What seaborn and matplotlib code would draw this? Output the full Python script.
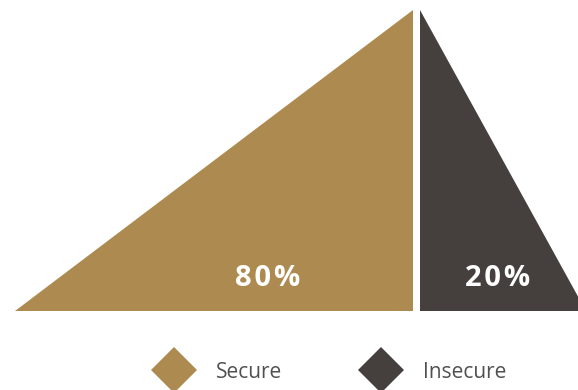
import matplotlib
matplotlib.use("Agg")
import matplotlib.pyplot as plt
from matplotlib.lines import Line2D
import seaborn as sns

# data
categories = ["Secure", "Insecure"]
values = [80, 20]
colors = ["#AD8B50", "#45403D"]

sns.set_theme(style="white")
plt.rcParams['font.family'] = ['Open Sans', 'DejaVu Sans']

fig = plt.figure(figsize=(5.78, 3.9), dpi=100)
ax = fig.add_axes([0, 0, 1, 1])
ax.set_xlim(0, 578)
ax.set_ylim(390, 0)
ax.axis("off")

# layout (pixel space)
top, bottom = 10, 311
left_foot, split, gap, right_foot = 15, 413, 7, 586

# secure: right-angled triangle leaning left
ax.fill([left_foot, split, split], [bottom, bottom, top],
        color=colors[0], lw=0)
# insecure: right-angled triangle leaning right (clipped at the edge)
ax.fill([split + gap, split + gap, right_foot], [top, bottom, bottom],
        color=colors[1], lw=0)

# slightly spaced percentage labels
label_x = [split - 145, split + gap + 78]
for x, v in zip(label_x, values):
    txt = "\u200a".join(f"{v}%")
    ax.text(x, 286, txt, color="white", fontsize=21, fontweight="bold",
            ha="center", va="baseline")

handles = [Line2D([], [], marker="D", linestyle="none", markersize=23,
                  markerfacecolor=c, markeredgewidth=0) for c in colors]
leg = ax.legend(handles, categories, loc="center", ncol=2,
                bbox_to_anchor=(328 / 578, 18 / 390), frameon=False,
                fontsize=15, handlelength=2.3, handletextpad=0.85,
                columnspacing=3.6, borderaxespad=0)
for t in leg.get_texts():
    t.set_color("#505050")

fig.savefig("out.png", dpi=100)
